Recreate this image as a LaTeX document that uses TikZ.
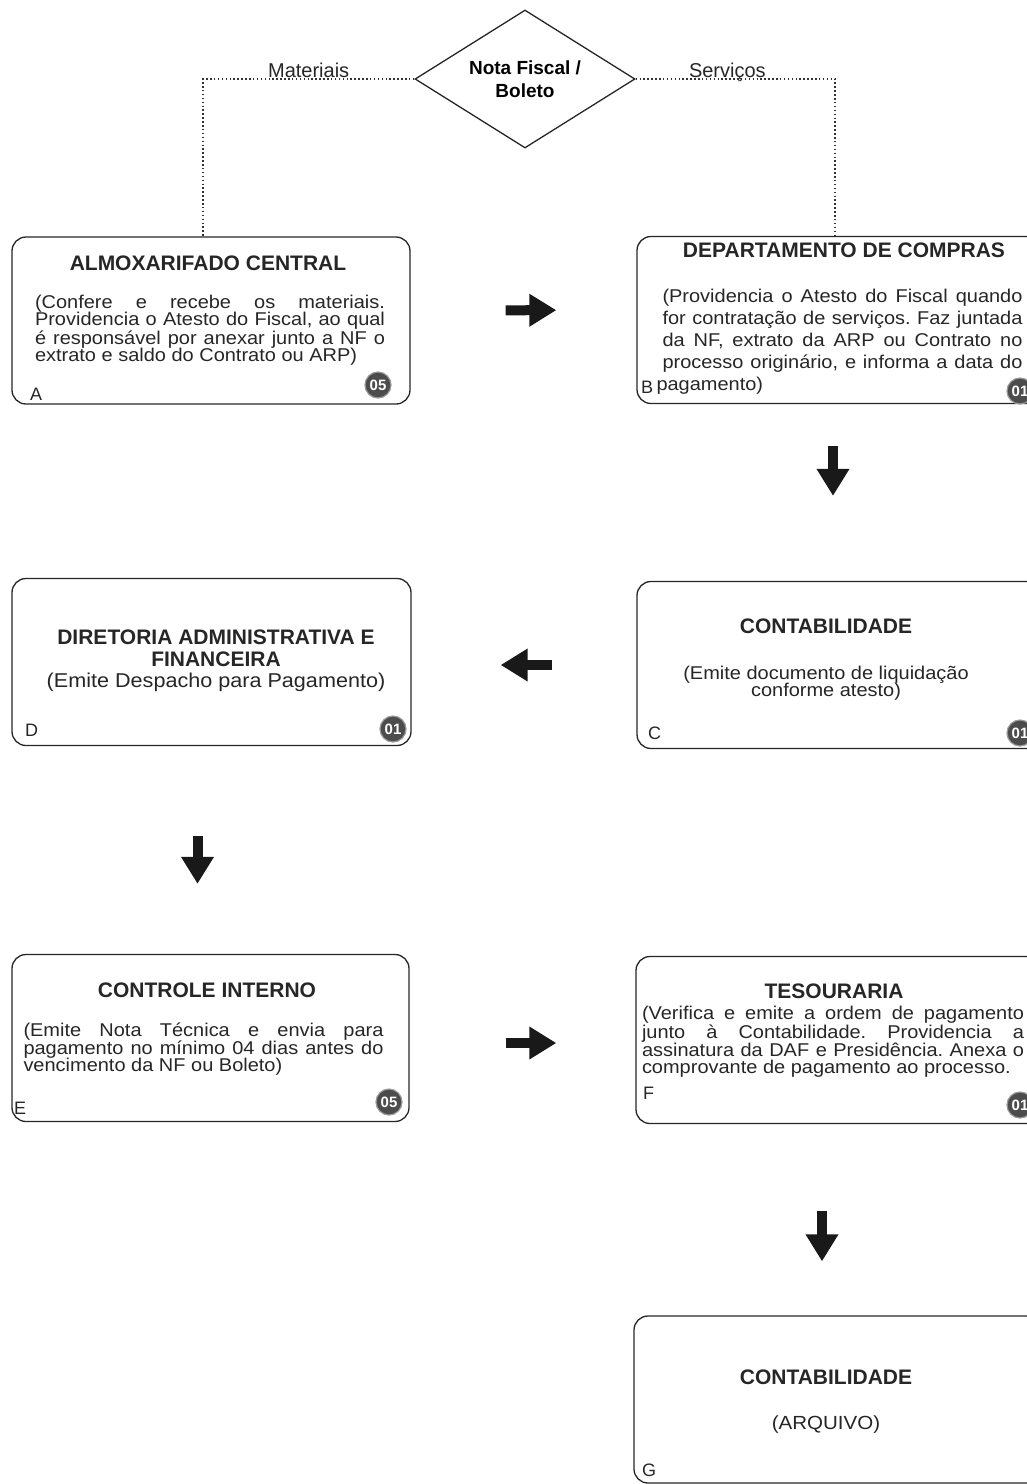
\documentclass[tikz,border=0pt]{standalone}
\usepackage{fontspec}
\setmainfont{Liberation Sans}
\newfontfamily\widefont{Liberation Sans}[FakeStretch=1.08]
\usetikzlibrary{arrows.meta,shapes.geometric}
\hyphenpenalty=10000
\exhyphenpenalty=10000
\lineskiplimit=-30pt
\frenchspacing

\begin{document}
\begin{tikzpicture}[
    x=1pt, y=-1pt,
    stage/.style={draw=black!85, line width=1.3pt, rounded corners=14pt, minimum height=167pt, inner sep=0pt},
    head/.style={font=\bfseries\fontsize{21}{22}\selectfont, text=black!85, inner sep=0pt},
    body/.style={font=\widefont\fontsize{18.5}{17.3}\selectfont, text=black!85, inner sep=0pt},
    tag/.style={font=\fontsize{18}{18}\selectfont, text=black!85, inner sep=0pt, anchor=west},
    badge/.style={circle, fill=black!70, draw=black!40, line width=1.2pt, text=white, font=\bfseries\fontsize{15}{15}\selectfont, minimum size=26pt, inner sep=0pt},
    lbl/.style={font=\fontsize{20}{20}\selectfont, text=black!85, inner sep=1pt},
    flow/.style={line width=10pt, black!90, -{Triangle[length=27pt,width=31pt]}},
    branch/.style={black!80, line width=1.5pt, dash pattern=on 1.5pt off 2.4pt},
    choice/.style={diamond, shape aspect=1.6, draw=black!85, line width=1.3pt, minimum width=220pt, minimum height=138pt, inner sep=0pt, align=center, font=\bfseries\fontsize{19}{23}\selectfont}
]
\useasboundingbox (0,0) rectangle (1027,1484);

% Nota fiscal
\node[choice] (nf) at (525,79) {Nota Fiscal /\\Boleto};

% A: almoxarifado
\node[stage, minimum width=398pt] (alm) at (211,320.5) {};
\node[head] (almH) at (208,263) {ALMOXARIFADO CENTRAL};
\node[body, text width=350pt, align=justify] (almT) at (210,330) {(Confere e recebe os materiais.\linebreak Providencia o Atesto do Fiscal, ao qual\linebreak é responsável por anexar junto a NF o\linebreak extrato e saldo do Contrato ou ARP)};
\node[tag] (almL) at (30,394) {A};
\node[badge] (almN) at (378,385) {05};

% B: compras
\node[stage, minimum width=403pt] (dep) at (838.5,320) {};
\node[head] (depH) at (844,250) {DEPARTAMENTO DE COMPRAS};
\node[body, text width=360pt, align=justify, font=\widefont\fontsize{18.5}{22}\selectfont] (depT) at (842.5,342) {(Providencia o Atesto do Fiscal quando\linebreak for contratação de serviços. Faz juntada\linebreak da NF, extrato da ARP ou Contrato no\linebreak processo originário, e informa a data do\linebreak \hspace*{-6pt}pagamento)};
\node[tag] (depL) at (641,387) {B};
\node[badge] (depN) at (1020,391) {01};

% C: contabilidade
\node[stage, minimum width=403pt] (cont) at (838.5,665) {};
\node[head] (contH) at (826,626) {CONTABILIDADE};
\node[body, align=center] (contT) at (826,683) {(Emite documento de liquidação\\conforme atesto)};
\node[tag] (contL) at (648,733) {C};
\node[badge] (contN) at (1020,733) {01};

% D: diretoria
\node[stage, minimum width=399pt] (dir) at (211.5,662) {};
\node[head, align=center] (dirH) at (216,648) {DIRETORIA ADMINISTRATIVA E\\FINANCEIRA};
\node[body, font=\widefont\fontsize{20}{20}\selectfont] (dirT) at (216,682) {(Emite Despacho para Pagamento)};
\node[tag] (dirL) at (25,730) {D};
\node[badge] (dirN) at (393,729) {01};

% E: controle interno
\node[stage, minimum width=397pt] (ctrl) at (210.5,1038) {};
\node[head] (ctrlH) at (207,990) {CONTROLE INTERNO};
\node[body, text width=360pt, align=justify] (ctrlT) at (203.5,1049) {(Emite Nota Técnica e envia para\linebreak pagamento no mínimo 04 dias antes do\linebreak vencimento da NF ou Boleto)};
\node[tag] (ctrlL) at (14,1108) {E};
\node[badge] (ctrlN) at (389,1102) {05};

% F: tesouraria
\node[stage, minimum width=404pt] (tes) at (838,1040) {};
\node[head] (tesH) at (834,991) {TESOURARIA};
\node[body, text width=382pt, align=justify] (tesT) at (833,1042) {(Verifica e emite a ordem de pagamento\linebreak junto à Contabilidade. Providencia a\linebreak assinatura da DAF e Presidência. Anexa o\linebreak comprovante de pagamento ao processo.};
\node[tag] (tesL) at (643,1093) {F};
\node[badge] (tesN) at (1020,1105) {01};

% G: arquivo
\node[stage, minimum width=406pt] (arq) at (837,1399.5) {};
\node[head] (arqH) at (826,1377) {CONTABILIDADE};
\node[body, font=\widefont\fontsize{19}{19}\selectfont] (arqT) at (826,1425) {(ARQUIVO)};
\node[tag] (arqL) at (642,1470) {G};

% ramos
\coordinate (almtop) at ([xshift=-8pt]alm.north);
\coordinate (deptop) at ([xshift=-3.5pt]dep.north);
\draw[branch] (nf.west) -- node[lbl, above] (mat) {Materiais} (nf.west -| almtop) -- (almtop);
\draw[branch] (nf.east) -- node[lbl, above, pos=0.46, yshift=-4pt] (serv) {Serviços} (nf.east -| deptop) -- (deptop);

% fluxo
\draw[flow, shorten <=95pt, shorten >=80pt] ([yshift=10pt]alm.east) -- ([yshift=10pt]dep.west);
\draw[flow, shorten <=42pt, shorten >=85pt] ([xshift=-5.5pt]dep.south) -- ([xshift=-5.5pt]dep.south |- cont.north);
\draw[flow, shorten <=84pt, shorten >=89pt] (cont.west) -- (cont.west -| dir.east);
\draw[flow, shorten <=90pt, shorten >=70pt] ([xshift=-14pt]dir.south) -- ([xshift=-14pt]dir.south |- ctrl.north);
\draw[flow, shorten <=96pt, shorten >=79pt] ([yshift=-5pt]ctrl.east) -- ([yshift=-5pt]ctrl.east -| tes.west);
\draw[flow, shorten <=87pt, shorten >=54pt] ([xshift=-16pt]tes.south) -- ([xshift=-16pt]tes.south |- arq.north);

\end{tikzpicture}
\end{document}
